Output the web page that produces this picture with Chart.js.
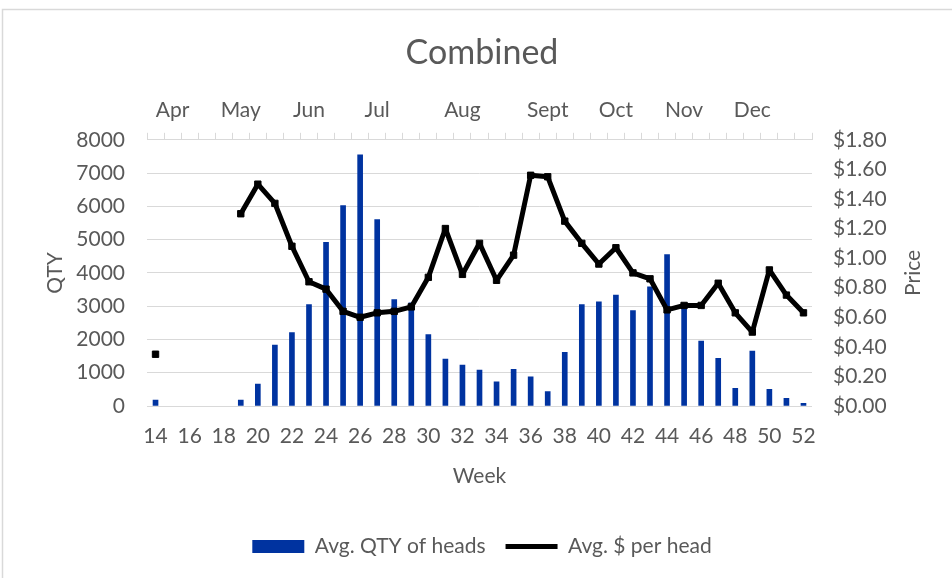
<!DOCTYPE html>
<html>
<head>
<meta charset="utf-8">
<script src="https://cdn.jsdelivr.net/npm/chart.js@4.4.1/dist/chart.umd.min.js"></script>
<style>
html,body{margin:0;padding:0;background:#fff;}
#wrap{position:relative;width:952px;height:578px;}
</style>
</head>
<body>
<div id="wrap"><canvas id="c" width="952" height="578"></canvas></div>
<script>
const weeks = [14,15,16,17,18,19,20,21,22,23,24,25,26,27,28,29,30,31,32,33,34,35,36,37,38,39,40,41,42,43,44,45,46,47,48,49,50,51,52];
const qtyHeads = [180,null,null,null,null,180,660,1830,2210,3050,4920,6020,7550,5600,3200,3100,2150,1410,1230,1080,730,1100,880,430,1610,3050,3130,3330,2870,3580,4550,3000,1950,1430,530,1650,500,230,80];
const pricePerHead = [0.35,null,null,null,null,1.30,1.50,1.37,1.08,0.84,0.79,0.64,0.60,0.63,0.64,0.67,0.87,1.20,0.89,1.10,0.85,1.02,1.56,1.55,1.25,1.10,0.96,1.07,0.90,0.86,0.65,0.68,0.68,0.83,0.63,0.50,0.92,0.75,0.63];
const monthNames = ['Apr','May','Jun','Jul','Aug','Sept','Oct','Nov','Dec'];
const monthWeeks = [15,19,23,27,32,37,41,45,49];
const qtyTicks = {min:0, max:8000, step:1000};
const priceTicks = {min:0, max:1.8, step:0.2};

const monthLabels = weeks.map(w => { const i = monthWeeks.indexOf(w); return i >= 0 ? monthNames[i] : ''; });

const TXT = '#595959';
const GRID = '#d9d9d9';
const FONT = 'Lato';

const bgPlugin = {
  id: 'bg',
  beforeDraw(chart) {
    const ctx = chart.ctx;
    ctx.save();
    ctx.fillStyle = '#fff';
    ctx.fillRect(0, 0, chart.width, chart.height);
    ctx.strokeStyle = GRID;
    ctx.lineWidth = 1.5;
    ctx.strokeRect(2.5, 9.5, 1000, 1000);
    ctx.restore();
  },
  afterDraw(chart) {
    const ctx = chart.ctx;
    const a = chart.chartArea;
    ctx.save();
    ctx.fillStyle = TXT;
    ctx.font = '21px ' + FONT;
    ctx.textAlign = 'center';
    ctx.textBaseline = 'middle';
    ctx.translate(913, (a.top + a.bottom) / 2);
    ctx.rotate(-Math.PI / 2);
    ctx.fillText('Price', 0, 0);
    ctx.restore();
  }
};

function draw() {
  Chart.defaults.font.family = FONT;
  Chart.defaults.font.size = 21;
  Chart.defaults.color = TXT;
  new Chart(document.getElementById('c'), {
    type: 'bar',
    data: {
      labels: weeks,
      datasets: [
        {
          type: 'bar',
          label: 'Avg. QTY of heads',
          data: qtyHeads,
          backgroundColor: '#0033A0',
          borderWidth: 0,
          barThickness: 5,
          yAxisID: 'y',
          xAxisID: 'x',
          order: 2,
          pointStyle: 'rect'
        },
        {
          type: 'line',
          label: 'Avg. $ per head',
          data: pricePerHead,
          borderColor: '#000',
          backgroundColor: '#000',
          borderWidth: 5,
          tension: 0,
          spanGaps: false,
          pointStyle: 'rect',
          pointRadius: 4.5,
          pointBorderWidth: 1,
          pointBackgroundColor: '#000',
          pointBorderColor: '#000',
          borderJoinStyle: 'round',
          yAxisID: 'y1',
          xAxisID: 'x',
          order: 1
        }
      ]
    },
    options: {
      responsive: false,
      animation: false,
      events: [],
      layout: { padding: { top: 33, left: 12, right: 0, bottom: 11 } },
      plugins: {
        title: {
          display: true,
          text: 'Combined',
          font: { size: 34, weight: 'normal', family: FONT },
          color: TXT,
          padding: { top: 0, bottom: 0 }
        },
        legend: {
          position: 'bottom',
          labels: {
            usePointStyle: true,
            pointStyleWidth: 52,
            boxHeight: 13,
            padding: 20,
            color: TXT,
            font: { size: 21, family: FONT },
            sort: (a, b) => a.datasetIndex - b.datasetIndex,
            generateLabels(chart) {
              const items = Chart.defaults.plugins.legend.labels.generateLabels(chart);
              items.forEach(it => {
                if (it.datasetIndex === 0) { it.pointStyle = 'rect'; it.lineWidth = 0; }
                else { it.pointStyle = 'line'; it.lineWidth = 5; it.strokeStyle = '#000'; }
              });
              return items;
            }
          }
        },
        tooltip: { enabled: false }
      },
      scales: {
        x: {
          position: 'bottom',
          offset: true,
          grid: { display: false, drawTicks: false },
          border: { display: false },
          ticks: {
            autoSkip: false, maxRotation: 0, padding: 18,
            callback(v, i) { return weeks[i] % 2 === 0 ? String(weeks[i]) : ''; }
          },
          title: { display: true, text: 'Week', padding: { top: 0, bottom: 27 } },
          afterFit(s) { s.height = 110; }
        },
        x2: {
          type: 'category',
          position: 'top',
          labels: monthLabels,
          offset: true,
          grid: { display: true, drawOnChartArea: false, drawTicks: true, tickLength: 7, offset: true, color: GRID, lineWidth: 1 },
          border: { display: true, color: GRID, width: 1 },
          ticks: { autoSkip: false, maxRotation: 0, padding: 10 },
          afterFit(s) { s.height = 66; }
        },
        y: {
          position: 'left',
          min: qtyTicks.min, max: qtyTicks.max,
          ticks: { stepSize: qtyTicks.step, padding: 22, callback: v => String(v) },
          grid: { color: GRID, drawTicks: false, lineWidth: 1 },
          border: { display: false },
          title: { display: true, text: 'QTY', padding: { top: 31, bottom: 0 } },
          afterFit(s) { s.width = 135; }
        },
        y1: {
          position: 'right',
          min: priceTicks.min, max: priceTicks.max,
          ticks: { stepSize: priceTicks.step, padding: 21, callback: v => '$' + Number(v).toFixed(2) },
          grid: { display: false, drawOnChartArea: false, drawTicks: false },
          border: { display: false },
          afterFit(s) { s.width = 140; }
        }
      }
    },
    plugins: [bgPlugin]
  });
}
(document.fonts && document.fonts.load ? document.fonts.load('21px Lato') : Promise.resolve()).then(draw, draw);
</script>
</body>
</html>
